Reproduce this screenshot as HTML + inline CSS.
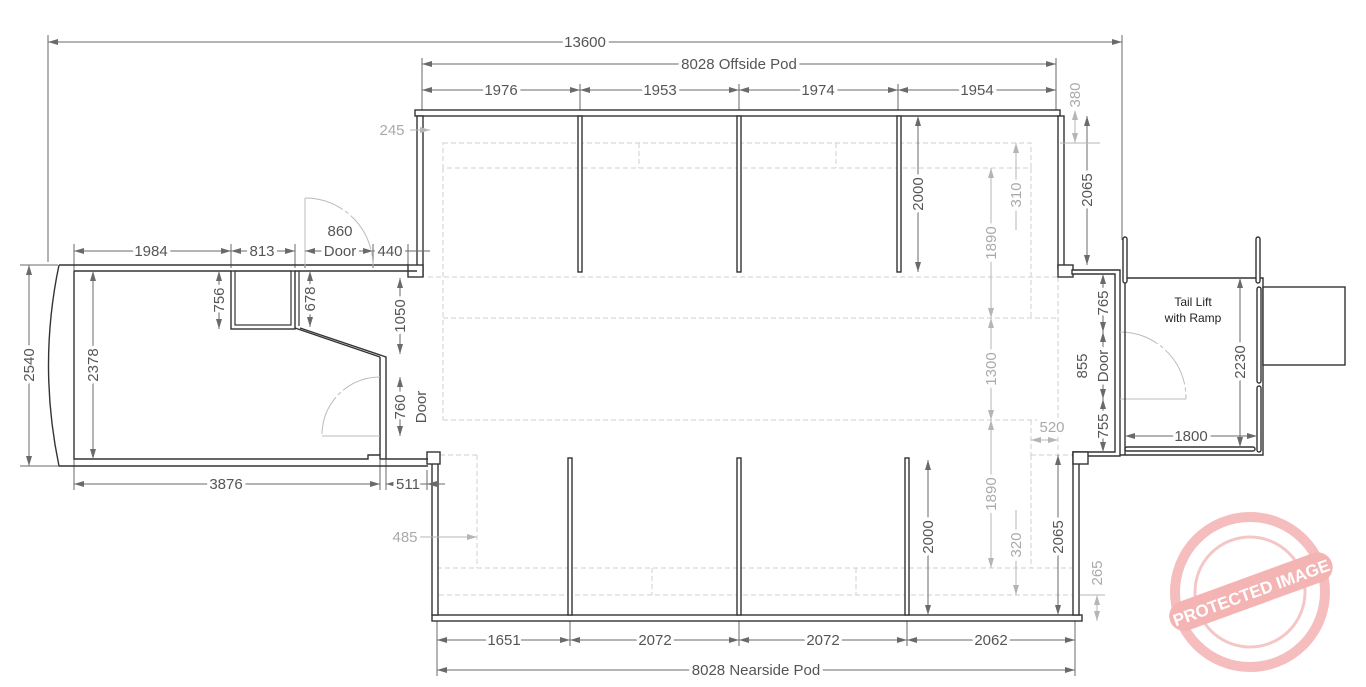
<!DOCTYPE html>
<html><head><meta charset="utf-8"><style>
html,body{margin:0;padding:0;background:#fff}
svg{display:block}
text{font-family:"Liberation Sans",sans-serif}
.d{stroke:#6a6a6a;stroke-width:1;fill:none}
.l{stroke:#b5b5b5;stroke-width:1;fill:none}
.t{fill:#555;font-size:15px;paint-order:stroke;stroke:#fff;stroke-width:7px;stroke-linejoin:round}
.tl{fill:#aaa;font-size:15px;paint-order:stroke;stroke:#fff;stroke-width:7px}
.w{fill:#fff;stroke:#333;stroke-width:1.4}
.dash{stroke:#cfcfcf;stroke-width:1;stroke-dasharray:5 3;fill:none}
.arc{stroke:#bbb;stroke-width:1;fill:none;stroke-dasharray:40 3 4 3}
</style></head><body>
<svg width="1366" height="687" viewBox="0 0 1366 687" xmlns="http://www.w3.org/2000/svg">
<defs>
<marker id="a" viewBox="0 0 10 6" refX="10" refY="3" markerWidth="10" markerHeight="6" markerUnits="userSpaceOnUse" orient="auto-start-reverse"><path d="M0,0L10,3L0,6z" fill="#6a6a6a"/></marker>
<marker id="b" viewBox="0 0 10 6" refX="10" refY="3" markerWidth="10" markerHeight="6" markerUnits="userSpaceOnUse" orient="auto-start-reverse"><path d="M0,0L10,3L0,6z" fill="#b5b5b5"/></marker>
</defs>

<!-- dashed interior -->
<g class="dash">
<rect x="443" y="143" width="588" height="25"/>
<line x1="639" y1="143" x2="639" y2="168"/><line x1="836" y1="143" x2="836" y2="168"/>
<line x1="443" y1="168" x2="443" y2="420"/>
<line x1="1031" y1="168" x2="1031" y2="318"/>
<line x1="428" y1="277" x2="1058" y2="277"/>
<line x1="443" y1="318" x2="1058" y2="318"/>
<line x1="443" y1="420" x2="1058" y2="420"/>
<line x1="440" y1="455" x2="477" y2="455"/>
<line x1="477" y1="455" x2="477" y2="568"/>
<line x1="1031" y1="420" x2="1031" y2="455"/>
<line x1="1031" y1="455" x2="1031" y2="568"/>
<line x1="1031" y1="455" x2="1075" y2="455"/>
<rect x="437" y="568" width="638" height="27"/>
<line x1="652" y1="568" x2="652" y2="595"/><line x1="856" y1="568" x2="856" y2="595"/>
<line x1="1058" y1="277" x2="1058" y2="455"/>
</g>

<!-- extension lines -->
<g class="d" stroke-width="0.8">
<line x1="48" y1="35" x2="48" y2="262"/><line x1="1122" y1="35" x2="1122" y2="240"/>
<line x1="422" y1="58" x2="422" y2="110"/><line x1="1056" y1="58" x2="1056" y2="110"/>
<line x1="580" y1="84" x2="580" y2="116"/><line x1="739" y1="84" x2="739" y2="116"/><line x1="898" y1="84" x2="898" y2="116"/>
<line x1="437" y1="620" x2="437" y2="676"/><line x1="1075" y1="620" x2="1075" y2="676"/>
<line x1="570" y1="615" x2="570" y2="646"/><line x1="739" y1="615" x2="739" y2="646"/><line x1="907" y1="615" x2="907" y2="646"/>
<line x1="20" y1="265" x2="58" y2="265"/><line x1="20" y1="466" x2="58" y2="466"/>
<line x1="74" y1="244" x2="74" y2="490"/><line x1="231" y1="244" x2="231" y2="268"/><line x1="295" y1="244" x2="295" y2="268"/>
<line x1="380" y1="460" x2="380" y2="490"/><line x1="386" y1="460" x2="386" y2="490"/><line x1="427" y1="470" x2="427" y2="490"/>
<line x1="408" y1="244" x2="408" y2="265"/><line x1="373" y1="244" x2="373" y2="268"/><line x1="305" y1="244" x2="305" y2="268"/>
</g>

<!-- walls: top pod -->
<rect class="w" x="415" y="110" width="645" height="6"/>
<rect class="w" x="417" y="116" width="6" height="160"/>
<rect class="w" x="408" y="265" width="15" height="12"/>
<rect class="w" x="1058" y="116" width="6" height="152"/>
<rect class="w" x="1058" y="265" width="15" height="12"/>
<rect class="w" x="578" y="116" width="4" height="156"/>
<rect class="w" x="737" y="116" width="4" height="156"/>
<rect class="w" x="897" y="116" width="4" height="156"/>
<!-- right door wall -->
<path class="w" d="M1072,270 L1120,270 L1120,456 L1073,456 L1073,452 L1115,452 L1115,274 L1072,274 Z"/>
<!-- bottom pod -->
<rect class="w" x="432" y="615" width="650" height="6"/>
<rect class="w" x="432" y="458" width="6" height="157"/>
<rect class="w" x="427" y="452" width="13" height="12"/>
<rect class="w" x="1073" y="452" width="6" height="163"/>
<rect class="w" x="1073" y="452" width="15" height="12"/>
<rect class="w" x="568" y="458" width="4" height="157"/>
<rect class="w" x="737" y="458" width="4" height="157"/>
<rect class="w" x="905" y="458" width="4" height="157"/>

<!-- left room -->
<path d="M59,265 L408,265 M59,265 Q38,365 59,466 L428,466" stroke="#333" stroke-width="1.4" fill="none"/>
<path d="M74,271 L231,271 M74,271 L74,459 L368,459 L368,455 L380,455 L380,459 L386,459 L386,357 L300,328 M295,271 L417,271" stroke="#333" stroke-width="1.4" fill="none"/>
<path d="M380,357 L380,455 M386,459 L428,459" stroke="#333" stroke-width="1.4" fill="none"/>
<path d="M295,328 L380,357" stroke="#333" stroke-width="1.4"/>
<rect class="w" x="231" y="271" width="64" height="58" fill="none"/>
<rect x="235" y="271" width="56" height="54" fill="none" stroke="#333" stroke-width="1.2"/>
<line x1="299" y1="271" x2="299" y2="326" stroke="#333" stroke-width="1.2"/>

<!-- doors -->
<path class="arc" d="M305,198 A68,68 0 0 1 373,266"/>
<line x1="305" y1="198" x2="305" y2="266" stroke="#bbb"/>
<path class="arc" d="M380,377 A58,58 0 0 0 322,436"/>
<line x1="322" y1="436" x2="380" y2="436" stroke="#bbb"/>
<path class="arc" d="M1120,332 A66,66 0 0 1 1186,399"/>
<line x1="1120" y1="399" x2="1186" y2="399" stroke="#bbb"/>

<!-- tail lift -->
<line x1="1125" y1="278" x2="1260" y2="278" stroke="#333" stroke-width="1.4"/>
<line x1="1125" y1="278" x2="1125" y2="455" stroke="#333" stroke-width="1.4"/>
<path d="M1260,278 L1263,278 L1263,455 L1120,455" stroke="#333" stroke-width="1.4" fill="none"/>
<rect class="w" x="1123" y="237" width="4" height="46" rx="2"/>
<rect class="w" x="1256" y="237" width="4" height="46" rx="2"/>
<rect class="w" x="1257" y="287" width="4" height="96" rx="2"/>
<rect class="w" x="1257" y="386" width="4" height="66" rx="2"/>
<rect class="w" x="1125" y="447" width="130" height="4" rx="2"/>
<rect x="1263" y="287" width="82" height="78" fill="#fff" stroke="#333" stroke-width="1.4"/>
<text x="1193" y="306" font-size="12" fill="#222" text-anchor="middle">Tail Lift</text>
<text x="1193" y="322" font-size="12" fill="#222" text-anchor="middle">with Ramp</text>

<!-- dark dims horizontal -->
<g class="d">
<line x1="48" y1="42" x2="1122" y2="42" marker-start="url(#a)" marker-end="url(#a)"/>
<line x1="422" y1="64" x2="1056" y2="64" marker-start="url(#a)" marker-end="url(#a)"/>
<line x1="422" y1="90" x2="580" y2="90" marker-start="url(#a)" marker-end="url(#a)"/>
<line x1="580" y1="90" x2="739" y2="90" marker-start="url(#a)" marker-end="url(#a)"/>
<line x1="739" y1="90" x2="898" y2="90" marker-start="url(#a)" marker-end="url(#a)"/>
<line x1="898" y1="90" x2="1056" y2="90" marker-start="url(#a)" marker-end="url(#a)"/>
<line x1="437" y1="640" x2="570" y2="640" marker-start="url(#a)" marker-end="url(#a)"/>
<line x1="570" y1="640" x2="739" y2="640" marker-start="url(#a)" marker-end="url(#a)"/>
<line x1="739" y1="640" x2="907" y2="640" marker-start="url(#a)" marker-end="url(#a)"/>
<line x1="907" y1="640" x2="1075" y2="640" marker-start="url(#a)" marker-end="url(#a)"/>
<line x1="437" y1="670" x2="1075" y2="670" marker-start="url(#a)" marker-end="url(#a)"/>
<line x1="74" y1="251" x2="231" y2="251" marker-start="url(#a)" marker-end="url(#a)"/>
<line x1="231" y1="251" x2="295" y2="251" marker-start="url(#a)" marker-end="url(#a)"/>
<line x1="305" y1="251" x2="373" y2="251" marker-start="url(#a)" marker-end="url(#a)"/>
<line x1="373" y1="251" x2="408" y2="251" marker-start="url(#a)" marker-end="url(#a)"/>
<line x1="408" y1="251" x2="430" y2="251"/>
<line x1="74" y1="484" x2="380" y2="484" marker-start="url(#a)" marker-end="url(#a)"/>
<line x1="386" y1="484" x2="427" y2="484" marker-start="url(#a)"/>
<line x1="427" y1="484" x2="445" y2="484" marker-start="url(#a)"/>
<line x1="1125" y1="436" x2="1257" y2="436" marker-start="url(#a)" marker-end="url(#a)"/>
<!-- vertical -->
<line x1="29" y1="265" x2="29" y2="466" marker-start="url(#a)" marker-end="url(#a)"/>
<line x1="93" y1="271" x2="93" y2="459" marker-start="url(#a)" marker-end="url(#a)"/>
<line x1="219" y1="271" x2="219" y2="329" marker-start="url(#a)" marker-end="url(#a)"/>
<line x1="310" y1="271" x2="310" y2="327" marker-start="url(#a)" marker-end="url(#a)"/>
<line x1="400" y1="278" x2="400" y2="354" marker-start="url(#a)" marker-end="url(#a)"/>
<line x1="400" y1="377" x2="400" y2="436" marker-start="url(#a)" marker-end="url(#a)"/>
<line x1="918" y1="116" x2="918" y2="272" marker-start="url(#a)" marker-end="url(#a)"/>
<line x1="1087" y1="116" x2="1087" y2="265" marker-start="url(#a)" marker-end="url(#a)"/>
<line x1="1103" y1="274" x2="1103" y2="332" marker-start="url(#a)" marker-end="url(#a)"/>
<line x1="1103" y1="332" x2="1103" y2="399" marker-start="url(#a)" marker-end="url(#a)"/>
<line x1="1103" y1="399" x2="1103" y2="452" marker-start="url(#a)" marker-end="url(#a)"/>
<line x1="1240" y1="278" x2="1240" y2="447" marker-start="url(#a)" marker-end="url(#a)"/>
<line x1="928" y1="460" x2="928" y2="615" marker-start="url(#a)" marker-end="url(#a)"/>
<line x1="1058" y1="455" x2="1058" y2="615" marker-start="url(#a)" marker-end="url(#a)"/>
</g>
<!-- light dims -->
<g class="l">
<line x1="410" y1="130" x2="430" y2="130" marker-end="url(#b)"/>
<line x1="420" y1="537" x2="477" y2="537" marker-end="url(#b)"/>
<line x1="991" y1="168" x2="991" y2="318" marker-start="url(#b)" marker-end="url(#b)"/>
<line x1="991" y1="318" x2="991" y2="420" marker-start="url(#b)" marker-end="url(#b)"/>
<line x1="991" y1="420" x2="991" y2="568" marker-start="url(#b)" marker-end="url(#b)"/>
<line x1="1016" y1="143" x2="1016" y2="230" marker-start="url(#b)"/>
<line x1="1016" y1="510" x2="1016" y2="595" marker-end="url(#b)"/>
<line x1="1075" y1="110" x2="1075" y2="143" marker-start="url(#b)" marker-end="url(#b)"/>
<line x1="1097" y1="595" x2="1097" y2="621" marker-start="url(#b)" marker-end="url(#b)"/>
<line x1="1031" y1="440" x2="1058" y2="440" marker-start="url(#b)" marker-end="url(#b)"/>
<line x1="1060" y1="143" x2="1100" y2="143"/>
<line x1="1080" y1="595" x2="1105" y2="595"/>
</g>

<!-- dark labels -->
<g class="t" text-anchor="middle">
<text x="585" y="47">13600</text>
<text x="739" y="69">8028 Offside Pod</text>
<text x="501" y="95">1976</text>
<text x="660" y="95">1953</text>
<text x="818" y="95">1974</text>
<text x="977" y="95">1954</text>
<text x="504" y="645">1651</text>
<text x="655" y="645">2072</text>
<text x="823" y="645">2072</text>
<text x="991" y="645">2062</text>
<text x="756" y="675">8028 Nearside Pod</text>
<text x="151" y="256">1984</text>
<text x="262" y="256">813</text>
<text x="340" y="236">860</text>
<text x="340" y="256">Door</text>
<text x="390" y="256">440</text>
<text x="226" y="489">3876</text>
<text x="408" y="489">511</text>
<text x="1191" y="441">1800</text>
<text transform="translate(34,365) rotate(-90)">2540</text>
<text transform="translate(98,365) rotate(-90)">2378</text>
<text transform="translate(224,300) rotate(-90)">756</text>
<text transform="translate(315,299) rotate(-90)">678</text>
<text transform="translate(405,316) rotate(-90)">1050</text>
<text transform="translate(405,407) rotate(-90)">760</text>
<text transform="translate(426,407) rotate(-90)">Door</text>
<text transform="translate(923,194) rotate(-90)">2000</text>
<text transform="translate(1092,190) rotate(-90)">2065</text>
<text transform="translate(1108,303) rotate(-90)">765</text>
<text transform="translate(1108,366) rotate(-90)">Door</text>
<text transform="translate(1087,366) rotate(-90)">855</text>
<text transform="translate(1108,426) rotate(-90)">755</text>
<text transform="translate(1245,362) rotate(-90)">2230</text>
<text transform="translate(933,537) rotate(-90)">2000</text>
<text transform="translate(1063,537) rotate(-90)">2065</text>
</g>
<g class="tl" text-anchor="middle">
<text x="392" y="135">245</text>
<text x="405" y="542">485</text>
<text x="1052" y="432">520</text>
<text transform="translate(996,243) rotate(-90)">1890</text>
<text transform="translate(996,369) rotate(-90)">1300</text>
<text transform="translate(996,494) rotate(-90)">1890</text>
<text transform="translate(1021,195) rotate(-90)">310</text>
<text transform="translate(1021,545) rotate(-90)">320</text>
<text transform="translate(1080,95) rotate(-90)">380</text>
<text transform="translate(1102,573) rotate(-90)">265</text>
</g>

<!-- stamp -->
<g opacity="0.55">
<circle cx="1250" cy="592" r="75" fill="none" stroke="#e88" stroke-width="10"/>
<circle cx="1250" cy="592" r="55" fill="none" stroke="#e99" stroke-width="3"/>
<g transform="rotate(-20 1250 592)">
<rect x="1165" y="577" width="172" height="30" rx="15" fill="#e77"/>
<text x="1251" y="599" font-size="17" font-weight="bold" fill="#fff" text-anchor="middle">PROTECTED IMAGE</text>
</g>
</g>
</svg>
</body></html>
